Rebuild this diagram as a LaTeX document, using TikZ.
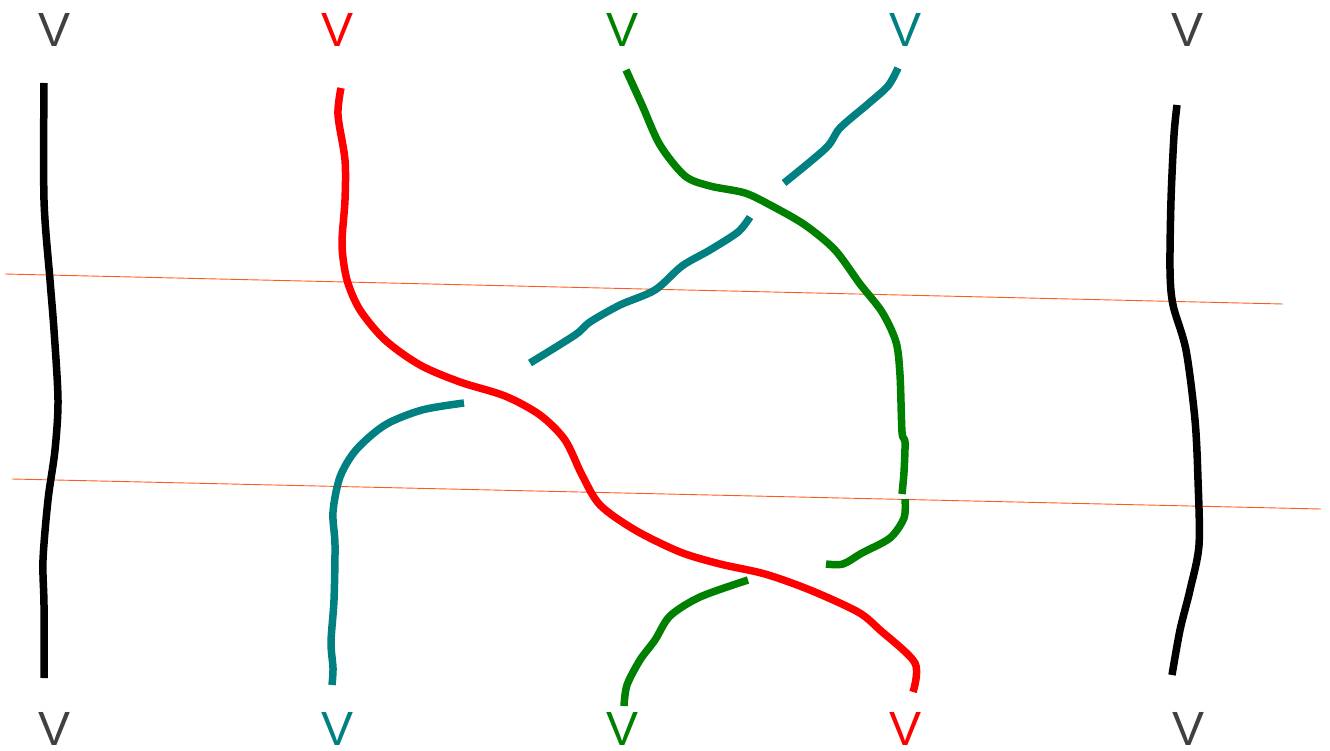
\documentclass[tikz,border=0pt]{standalone}
\usepackage{fontspec}
\setmainfont{Liberation Sans}
\definecolor{lblgray}{HTML}{404040}
\definecolor{tealc}{HTML}{008080}
\definecolor{greenc}{HTML}{008000}
\definecolor{orangec}{HTML}{FF5A1E}
\tikzset{
  lbl/.style={font=\fontsize{48}{48}\selectfont, inner sep=0pt, anchor=center},
  strand/.style={line width=7.5pt, line cap=butt, line join=round},
  guide/.style={orangec, line width=0.9pt},
}
\begin{document}
\begin{tikzpicture}[x=1pt,y=-1pt]
\useasboundingbox (0,0) rectangle (1330,751);
% labels
\node[lbl, text=lblgray] (t1) at (55,30) {V};
\node[lbl, text=red] (t2) at (338,30) {V};
\node[lbl, text=greenc] (t3) at (622,30) {V};
\node[lbl, text=tealc] (t4) at (905,30) {V};
\node[lbl, text=lblgray] (t5) at (1187,30) {V};
\node[lbl, text=lblgray] (b1) at (55,729) {V};
\node[lbl, text=tealc] (b2) at (338,729) {V};
\node[lbl, text=greenc] (b3) at (622,729) {V};
\node[lbl, text=red] (b4) at (905,729) {V};
\node[lbl, text=lblgray] (b5) at (1188,729) {V};
% guide lines
\coordinate (g1a) at (5,274); \coordinate (g1b) at (1283,304);
\coordinate (g2a) at (12,479); \coordinate (g2b) at (1321,509);
\draw[guide] (g1a) -- (g1b);
\draw[guide] (g2a) -- (g2b);
% black left
\draw[strand, black] plot[smooth, tension=0.5] coordinates {(44,83) (44,200) (50,280) (54,330) (58,400) (55,450) (48,500) (43,560) (44,605) (44,678)};
% black right
\draw[strand, black] plot[smooth, tension=0.5] coordinates {(1177,105) (1174,135) (1171,200) (1170,270) (1173,305) (1186,350) (1195,420) (1198,480) (1199,545) (1190,590) (1180,630) (1172,675)};
% red
\draw[strand, red] plot[smooth, tension=0.5] coordinates {(341,88) (338,115) (345,160) (345,200) (342,245) (347,280) (360,310) (385,340) (420,365) (460,382) (505,396) (540,415) (565,440) (582,475) (600,505) (635,530) (680,552) (720,564) (765,574) (810,590) (858,612) (880,630) (915,663) (913,692)};
% green top
\draw[strand, greenc] plot[smooth, tension=0.5] coordinates {(626,70) (642,105) (660,145) (685,176) (710,186) (745,193) (772,206) (805,225) (835,250) (860,284) (882,312) (896,342) (900,375) (902,432) (905,442) (904,472) (902,494)};
\draw[strand, greenc] plot[smooth, tension=0.5] coordinates {(905,499) (904,518) (890,538) (862,553) (843,564) (826,564)};
% green bottom
\draw[strand, greenc] plot[smooth, tension=0.5] coordinates {(748,580) (700,597) (670,616) (655,640) (640,660) (627,685) (624,706)};
% teal
\draw[strand, tealc] plot[smooth, tension=0.5] coordinates {(898,68) (888,86) (868,104) (840,128) (826,148) (784,183)};
\draw[strand, tealc] plot[smooth, tension=0.5] coordinates {(750,217) (738,232) (710,250) (682,266) (655,290) (620,305) (590,322) (575,335) (530,363)};
\draw[strand, tealc] plot[smooth, tension=0.5] coordinates {(464,403) (422,410) (385,425) (356,450) (340,477) (333,512) (335,545) (334,600) (331,642) (333,668) (332,685)};
\end{tikzpicture}
\end{document}
